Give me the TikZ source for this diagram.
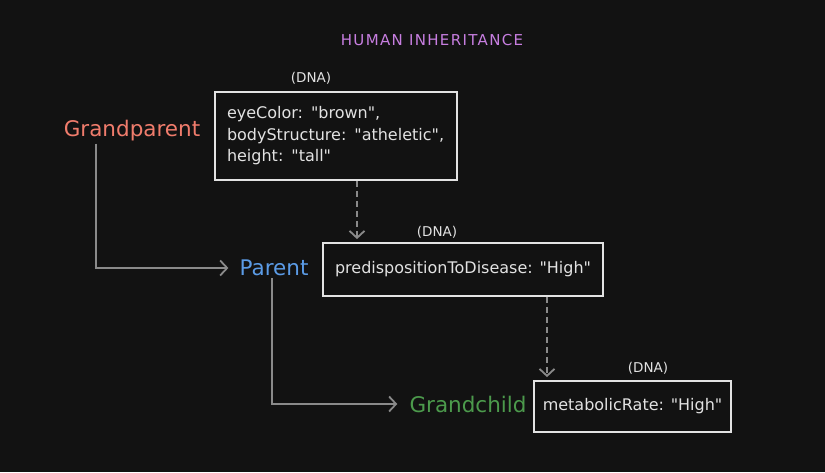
\documentclass[tikz,border=0pt]{standalone}
\usepackage{fontspec}
\setmainfont{DejaVu Sans}[Ligatures=TeXOff]
\usetikzlibrary{arrows.meta}
\definecolor{bg}{HTML}{121212}
\definecolor{titlecol}{HTML}{C77EE0}
\definecolor{gpcol}{HTML}{F07C6C}
\definecolor{pcol}{HTML}{5B9BE6}
\definecolor{gccol}{HTML}{4C9A4C}
\definecolor{boxcol}{HTML}{E2E2E2}
\definecolor{arrcol}{HTML}{8A8A8A}
\tikzset{
  dnabox/.style={draw=boxcol, line width=1.8pt, text=boxcol, align=left, inner xsep=12pt, font=\fontsize{16}{21.5}\selectfont},
  dnalabel/.style={text=boxcol, font=\fontsize{13.5}{15}\selectfont},
  person/.style={font=\fontsize{21.5}{24}\selectfont, inner sep=2pt},
  arr/.style={draw=arrcol, line width=1.8pt, -{Straight Barb[length=7pt,width=15pt,line width=1.8pt]}},
  dasharr/.style={arr, dash pattern=on 6pt off 4pt},
}
\begin{document}
\begin{tikzpicture}[x=1pt,y=-1pt]
\fill[bg] (0,0) rectangle (825,472);
\useasboundingbox (0,0) rectangle (825,472);

\node[text=titlecol, font=\fontsize{15}{17}\selectfont\addfontfeatures{LetterSpace=9}] (title) at (432,40) {HUMAN INHERITANCE};

\node[person, text=gpcol] (gp) at (132,131) {Grandparent};
\node[person, text=pcol] (par) at (274,268) {Parent};
\node[person, text=gccol] (gc) at (468,404) {Grandchild};

\node[dnabox, minimum width=242pt, minimum height=88pt, text width=218pt] (b1) at (336,136)
  {eyeColor: "brown",\\bodyStructure: "atheletic",\\height: "tall"};
\node[dnabox, minimum width=280pt, minimum height=53pt, align=center] (b2) at (463,269.5)
  {predispositionToDisease: "High"};
\node[dnabox, minimum width=197pt, minimum height=51pt, align=center, inner xsep=6pt] (b3) at (632.5,406.5)
  {metabolicRate: "High"};

\node[dnalabel] (l1) at (311,78) {(DNA)};
\node[dnalabel] (l2) at (437,232) {(DNA)};
\node[dnalabel] (l3) at (648,368) {(DNA)};

\coordinate (x1) at (96,0);
\coordinate (x2) at (272,0);
\coordinate (x3) at (357,0);
\coordinate (x4) at (547,0);

\draw[arr, shorten >=9pt] (gp.south -| x1) |- (par.west);
\draw[arr, shorten >=10pt] (par.south -| x2) |- (gc.west);
\draw[dasharr, shorten >=3pt] (b1.south -| x3) -- (b2.north -| x3);
\draw[dasharr, shorten >=3pt] (b2.south -| x4) -- (b3.north -| x4);
\end{tikzpicture}
\end{document}
